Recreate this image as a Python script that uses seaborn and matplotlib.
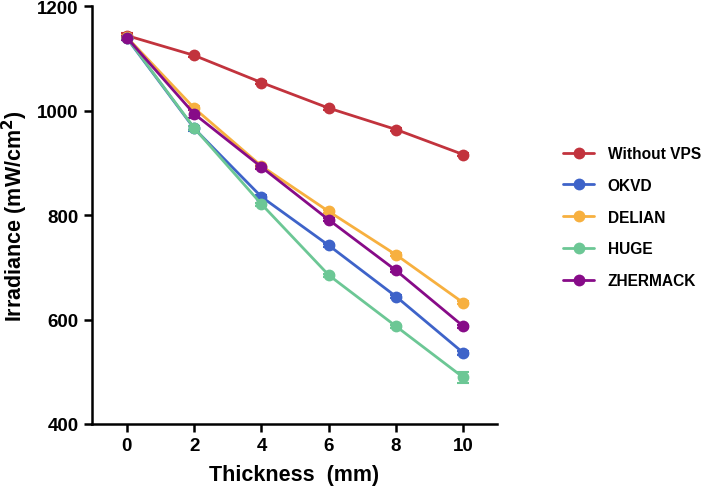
import pandas as pd
import matplotlib.pyplot as plt
import seaborn as sns

# Irradiance through VPS layers of increasing thickness
thickness = [0, 2, 4, 6, 8, 10]
series_names = ["Without VPS", "OKVD", "DELIAN", "HUGE", "ZHERMACK"]

without_vps = [1144, 1106, 1054, 1005, 964, 916]
okvd = [1139, 966, 835, 742, 644, 536]
delian = [1141, 1005, 894, 807, 724, 632]
huge = [1140, 967, 821, 685, 587, 489]
zhermack = [1140, 994, 892, 791, 694, 587]

without_vps_err = [4, 3, 3, 3, 3, 3]
okvd_err = [4, 4, 3, 3, 3, 3]
delian_err = [4, 4, 3, 3, 3, 3]
huge_err = [4, 4, 3, 3, 3, 11]
zhermack_err = [4, 8, 3, 3, 3, 3]

colors = ["#C2333D", "#3E63C9", "#F7B03F", "#6CC795", "#870B88"]

values = [without_vps, okvd, delian, huge, zhermack]
errors = [without_vps_err, okvd_err, delian_err, huge_err, zhermack_err]

rows = []
for name, vals, errs in zip(series_names, values, errors):
    for t, v, e in zip(thickness, vals, errs):
        rows.append({"thickness": t, "irradiance": v, "err": e, "group": name})
df = pd.DataFrame(rows)

sns.set_style("ticks")
plt.rcParams['font.family'] = ['Liberation Sans', 'DejaVu Sans']
plt.rcParams['font.weight'] = 'bold'
plt.rcParams['text.color'] = 'black'
plt.rcParams['axes.labelcolor'] = 'black'
plt.rcParams['axes.edgecolor'] = 'black'
plt.rcParams['xtick.color'] = 'black'
plt.rcParams['ytick.color'] = 'black'

fig = plt.figure(figsize=(7.07, 4.89), dpi=100)
ax = fig.add_axes([0.13, 0.131, 0.573, 0.854])

palette = dict(zip(series_names, colors))

# error bars first so the markers sit on top
for name in series_names:
    sub = df[df["group"] == name]
    ax.errorbar(sub["thickness"], sub["irradiance"], yerr=sub["err"], fmt="none",
                ecolor=palette[name], elinewidth=1.5, capsize=4, capthick=1.5, zorder=2)

sns.lineplot(data=df, x="thickness", y="irradiance", hue="group", hue_order=series_names,
             palette=palette, marker="o", markersize=8.5, markeredgewidth=0,
             linewidth=2, ax=ax, legend=True, zorder=3)

ax.set_xlim(-1.04, 11.0)
ax.set_ylim(400, 1200)
ax.set_xticks(thickness)
ax.set_yticks([400, 600, 800, 1000, 1200])
ax.tick_params(axis="both", labelsize=13.5, width=1.8, length=6, direction="out")
for lbl in ax.get_xticklabels() + ax.get_yticklabels():
    lbl.set_fontweight("bold")

for s in ["left", "bottom"]:
    ax.spines[s].set_linewidth(1.8)
sns.despine(ax=ax)

ax.set_xlabel("Thickness  (mm)", fontsize=15.5, fontweight="bold", labelpad=7)
ax.set_ylabel("Irradiance (mW/cm$^{\\mathbf{2}}$)", fontsize=15.5, fontweight="bold", labelpad=5)

handles, labels = ax.get_legend_handles_labels()
leg = ax.legend(handles, labels, loc="upper left", bbox_to_anchor=(0.777, 0.728),
                bbox_transform=fig.transFigure, frameon=False, fontsize=11.2,
                labelspacing=1.08, handlelength=2.0, handletextpad=0.85)
for t in leg.get_texts():
    t.set_fontweight("bold")

plt.savefig("out.png", dpi=100)
plt.close(fig)
